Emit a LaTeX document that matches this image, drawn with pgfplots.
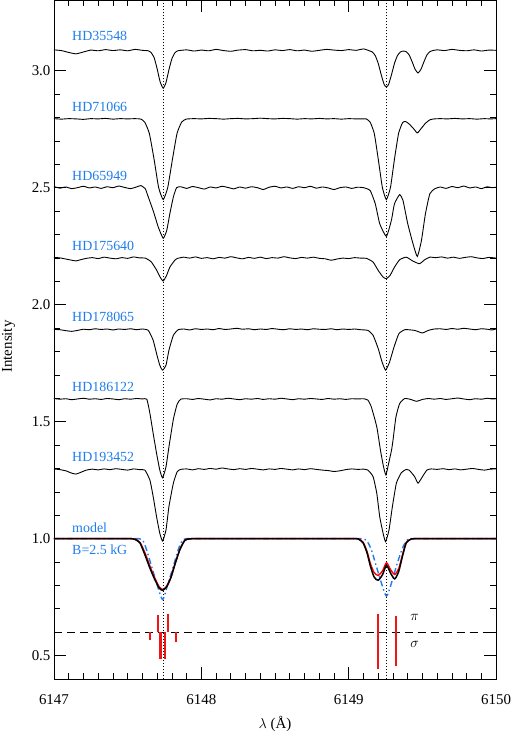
\documentclass[border=0pt]{standalone}
\usepackage{fontspec}
\setmainfont{Liberation Serif}
\usepackage{pgfplots}
\pgfplotsset{compat=1.18}
\definecolor{labblue}{RGB}{30,125,235}
\definecolor{zred}{RGB}{240,20,20}
\tikzset{
  spec/.style={black, line width=0.9bp, smooth, tension=0.3},
  zee/.style={color=zred, solid, line width=2.1bp},
  lab/.style={anchor=west, text=labblue, font=\fontsize{14}{16}\selectfont},
}
\begin{document}
\begin{tikzpicture}
\begin{axis}[
  scale only axis, width=442.5bp, height=679bp,
  xmin=6147, xmax=6150, ymin=0.4, ymax=3.3,
  axis line style={line width=0.8bp},
  tick align=inside, tick pos=both,
  xtick={6147,6148,6149,6150}, minor x tick num=9,
  ytick={0.5,1.0,...,3.0}, minor y tick num=4,
  major tick length=12bp, minor tick length=6bp,
  every tick/.style={black, line width=0.7bp},
  /pgf/number format/assume math mode=true,
  xticklabel style={/pgf/number format/1000 sep={}, yshift=-12bp},
  yticklabel style={/pgf/number format/.cd, fixed, fixed zerofill, precision=1},
  tick label style={font=\fontsize{15}{18}\selectfont},
  xlabel={$\lambda$ (Å)}, ylabel={Intensity},
  label style={font=\fontsize{15}{18}\selectfont},
  xlabel style={at={(axis description cs:0.5,-0.0663)}, anchor=center},
  ylabel style={at={(axis description cs:-0.1025,0.49)}, anchor=center},
]
% Zeeman pattern (drawn first, under the dotted line positions)
\addplot[black, line width=0.8bp, dash pattern=on 8bp off 5bp] coordinates {(6147,0.6) (6150,0.6)};
\addplot[zee] coordinates {(6149.318,0.454) (6149.318,0.670)};
\addplot[zee] coordinates {(6149.199,0.443) (6149.199,0.678)};
\addplot[zee] coordinates {(6147.707,0.6) (6147.707,0.675)};
\addplot[zee] coordinates {(6147.775,0.6) (6147.775,0.680)};
\addplot[zee] coordinates {(6147.651,0.6) (6147.651,0.566)};
\addplot[zee] coordinates {(6147.723,0.6) (6147.723,0.485)};
\addplot[zee] coordinates {(6147.753,0.6) (6147.753,0.485)};
\addplot[zee] coordinates {(6147.825,0.6) (6147.825,0.559)};

% line positions
\addplot[black, line width=1bp, dash pattern=on 1bp off 2bp] coordinates {(6147.741,0.4) (6147.741,3.3)};
\addplot[black, line width=1bp, dash pattern=on 1bp off 2bp] coordinates {(6149.255,0.4) (6149.255,3.3)};

% HD35548
\addplot[spec] coordinates {
(6147.00,3.089) (6147.05,3.086) (6147.10,3.078) (6147.15,3.072) (6147.20,3.080) (6147.25,3.088) (6147.30,3.085) (6147.35,3.090) (6147.40,3.086) (6147.45,3.089) (6147.50,3.085) (6147.55,3.091) (6147.60,3.087)
(6147.64,3.085) (6147.66,3.077) (6147.68,3.055) (6147.70,3.008) (6147.72,2.953) (6147.741,2.925) (6147.76,2.949) (6147.78,3.004) (6147.80,3.051) (6147.82,3.076) (6147.84,3.085)
(6147.90,3.089) (6147.95,3.084) (6148.00,3.088) (6148.05,3.085) (6148.10,3.091) (6148.15,3.086) (6148.20,3.083) (6148.25,3.088) (6148.30,3.090) (6148.35,3.085) (6148.40,3.087) (6148.45,3.084) (6148.50,3.089) (6148.55,3.086) (6148.60,3.090) (6148.65,3.085) (6148.70,3.088) (6148.75,3.083) (6148.80,3.087) (6148.85,3.091) (6148.90,3.088) (6148.95,3.086) (6149.00,3.090) (6149.05,3.087) (6149.10,3.093)
(6149.14,3.085) (6149.16,3.080) (6149.18,3.064) (6149.20,3.031) (6149.22,2.983) (6149.24,2.941) (6149.255,2.930) (6149.27,2.941) (6149.29,2.983) (6149.31,3.031) (6149.33,3.064) (6149.35,3.080) (6149.37,3.084) (6149.39,3.081) (6149.41,3.067) (6149.43,3.038) (6149.45,3.006) (6149.47,2.990) (6149.49,3.006) (6149.51,3.038) (6149.53,3.067) (6149.55,3.081) (6149.57,3.086)
(6149.60,3.089) (6149.65,3.086) (6149.70,3.091) (6149.75,3.087) (6149.80,3.085) (6149.85,3.089) (6149.90,3.084) (6149.95,3.088) (6150.00,3.087)};

% HD71066
\addplot[spec] coordinates {
(6147.00,2.795) (6147.05,2.793) (6147.10,2.795) (6147.15,2.794) (6147.20,2.792) (6147.25,2.795) (6147.30,2.794) (6147.35,2.796) (6147.40,2.793) (6147.45,2.795) (6147.50,2.794) (6147.55,2.795) (6147.59,2.793)
(6147.616,2.780) (6147.647,2.732) (6147.679,2.622) (6147.71,2.501) (6147.741,2.449) (6147.772,2.501) (6147.804,2.622) (6147.835,2.732) (6147.866,2.780) (6147.897,2.793)
(6147.95,2.795) (6148.00,2.794) (6148.05,2.796) (6148.10,2.795) (6148.15,2.793) (6148.20,2.795) (6148.25,2.796) (6148.30,2.794) (6148.35,2.795) (6148.40,2.797) (6148.45,2.795) (6148.50,2.794) (6148.55,2.796) (6148.60,2.795) (6148.65,2.793) (6148.70,2.795) (6148.75,2.794) (6148.80,2.796) (6148.85,2.794) (6148.90,2.795) (6148.95,2.793) (6149.00,2.795) (6149.05,2.794) (6149.09,2.794)
(6149.118,2.794) (6149.145,2.780) (6149.173,2.732) (6149.20,2.622) (6149.228,2.501) (6149.255,2.449) (6149.283,2.501) (6149.31,2.622) (6149.338,2.732) (6149.365,2.778) (6149.385,2.783) (6149.41,2.772) (6149.44,2.752) (6149.465,2.734) (6149.49,2.752) (6149.52,2.775) (6149.55,2.790) (6149.58,2.794)
(6149.62,2.795) (6149.67,2.794) (6149.72,2.796) (6149.77,2.794) (6149.82,2.795) (6149.87,2.793) (6149.92,2.795) (6149.96,2.794) (6150.00,2.795)};

% HD65949
\addplot[spec] coordinates {
(6147.00,2.505) (6147.04,2.498) (6147.08,2.503) (6147.12,2.496) (6147.16,2.500) (6147.20,2.506) (6147.24,2.499) (6147.28,2.503) (6147.32,2.497) (6147.36,2.504) (6147.40,2.500) (6147.44,2.507) (6147.48,2.501) (6147.52,2.496) (6147.56,2.503) (6147.59,2.509)
(6147.62,2.495) (6147.64,2.460) (6147.674,2.400) (6147.708,2.331) (6147.741,2.284) (6147.765,2.317) (6147.786,2.388) (6147.81,2.460) (6147.832,2.500)
(6147.86,2.504) (6147.90,2.497) (6147.94,2.505) (6147.98,2.500) (6148.02,2.494) (6148.06,2.503) (6148.10,2.499) (6148.14,2.506) (6148.18,2.501) (6148.22,2.495) (6148.26,2.503) (6148.30,2.498) (6148.34,2.504) (6148.38,2.500) (6148.42,2.492) (6148.46,2.502) (6148.50,2.506) (6148.54,2.499) (6148.58,2.503) (6148.62,2.497) (6148.66,2.504) (6148.70,2.500) (6148.74,2.506) (6148.78,2.498) (6148.82,2.503) (6148.86,2.499) (6148.90,2.492) (6148.94,2.500) (6148.98,2.503) (6149.02,2.497) (6149.06,2.502) (6149.10,2.500)
(6149.145,2.488) (6149.18,2.431) (6149.21,2.346) (6149.255,2.292) (6149.289,2.360) (6149.31,2.431) (6149.345,2.470) (6149.368,2.445) (6149.40,2.346) (6149.436,2.260) (6149.465,2.206) (6149.493,2.274) (6149.52,2.388) (6149.55,2.474) (6149.583,2.495)
(6149.62,2.503) (6149.66,2.497) (6149.70,2.505) (6149.74,2.500) (6149.78,2.507) (6149.82,2.499) (6149.86,2.503) (6149.90,2.496) (6149.94,2.504) (6149.97,2.500) (6150.00,2.502)};

% HD175640
\addplot[spec] coordinates {
(6147.00,2.202) (6147.04,2.200) (6147.08,2.195) (6147.12,2.190) (6147.15,2.187) (6147.18,2.192) (6147.22,2.198) (6147.26,2.201) (6147.30,2.197) (6147.34,2.203) (6147.38,2.199) (6147.42,2.196) (6147.46,2.201) (6147.50,2.198) (6147.54,2.204) (6147.58,2.200) (6147.62,2.199)
(6147.66,2.183) (6147.696,2.148) (6147.72,2.118) (6147.741,2.101) (6147.764,2.125) (6147.786,2.160) (6147.82,2.190) (6147.84,2.198)
(6147.88,2.203) (6147.92,2.199) (6147.96,2.204) (6148.00,2.198) (6148.04,2.201) (6148.08,2.196) (6148.12,2.202) (6148.16,2.199) (6148.20,2.205) (6148.24,2.200) (6148.28,2.196) (6148.32,2.202) (6148.36,2.198) (6148.40,2.203) (6148.44,2.197) (6148.48,2.201) (6148.52,2.199) (6148.56,2.205) (6148.60,2.200) (6148.64,2.197) (6148.68,2.202) (6148.72,2.199) (6148.76,2.203) (6148.80,2.198) (6148.84,2.196) (6148.88,2.190) (6148.92,2.195) (6148.96,2.199) (6149.00,2.197) (6149.04,2.201) (6149.08,2.199) (6149.12,2.198)
(6149.165,2.182) (6149.20,2.146) (6149.233,2.118) (6149.255,2.111) (6149.28,2.125) (6149.31,2.160) (6149.345,2.192) (6149.39,2.203) (6149.436,2.186) (6149.48,2.175) (6149.515,2.192) (6149.55,2.203)
(6149.59,2.201) (6149.63,2.204) (6149.67,2.199) (6149.71,2.203) (6149.75,2.198) (6149.79,2.202) (6149.83,2.205) (6149.87,2.200) (6149.91,2.197) (6149.95,2.202) (6150.00,2.199)};

% HD178065
\addplot[spec] coordinates {
(6147.00,1.894) (6147.04,1.893) (6147.08,1.889) (6147.12,1.886) (6147.16,1.890) (6147.20,1.895) (6147.24,1.893) (6147.28,1.897) (6147.32,1.894) (6147.36,1.896) (6147.40,1.892) (6147.44,1.896) (6147.48,1.894) (6147.52,1.897) (6147.56,1.893) (6147.60,1.896)
(6147.64,1.890) (6147.673,1.848) (6147.696,1.791) (6147.718,1.741) (6147.737,1.720) (6147.76,1.741) (6147.78,1.805) (6147.81,1.869) (6147.843,1.893)
(6147.88,1.896) (6147.92,1.892) (6147.96,1.897) (6148.00,1.894) (6148.04,1.896) (6148.08,1.893) (6148.12,1.898) (6148.16,1.894) (6148.20,1.896) (6148.24,1.899) (6148.28,1.895) (6148.32,1.897) (6148.36,1.893) (6148.40,1.896) (6148.44,1.894) (6148.48,1.898) (6148.52,1.895) (6148.56,1.893) (6148.60,1.897) (6148.64,1.894) (6148.68,1.896) (6148.72,1.893) (6148.76,1.897) (6148.80,1.895) (6148.84,1.894) (6148.88,1.897) (6148.92,1.893) (6148.96,1.896) (6149.00,1.894) (6149.04,1.896) (6149.08,1.893)
(6149.13,1.890) (6149.165,1.869) (6149.20,1.812) (6149.226,1.755) (6149.25,1.720) (6149.277,1.755) (6149.307,1.819) (6149.34,1.876) (6149.38,1.893) (6149.42,1.892) (6149.447,1.890) (6149.475,1.884) (6149.50,1.879) (6149.54,1.890) (6149.58,1.896)
(6149.62,1.897) (6149.66,1.894) (6149.70,1.898) (6149.74,1.895) (6149.78,1.899) (6149.82,1.896) (6149.86,1.893) (6149.90,1.897) (6149.94,1.895) (6149.97,1.892) (6150.00,1.896)};

% HD186122
\addplot[spec] coordinates {
(6147.00,1.599) (6147.04,1.596) (6147.08,1.598) (6147.12,1.594) (6147.16,1.597) (6147.20,1.600) (6147.24,1.596) (6147.28,1.598) (6147.32,1.595) (6147.36,1.599) (6147.40,1.597) (6147.44,1.594) (6147.48,1.598) (6147.52,1.596) (6147.56,1.599) (6147.60,1.597) (6147.63,1.596)
(6147.651,1.535) (6147.673,1.450) (6147.696,1.365) (6147.718,1.293) (6147.737,1.260) (6147.76,1.307) (6147.78,1.392) (6147.81,1.510) (6147.836,1.575) (6147.86,1.596)
(6147.90,1.598) (6147.94,1.595) (6147.98,1.599) (6148.02,1.596) (6148.06,1.593) (6148.10,1.598) (6148.14,1.596) (6148.18,1.600) (6148.22,1.597) (6148.26,1.594) (6148.30,1.598) (6148.34,1.596) (6148.38,1.599) (6148.42,1.595) (6148.46,1.598) (6148.50,1.596) (6148.54,1.600) (6148.58,1.597) (6148.62,1.594) (6148.66,1.598) (6148.70,1.596) (6148.74,1.599) (6148.78,1.597) (6148.82,1.595) (6148.86,1.599) (6148.90,1.596) (6148.94,1.598) (6148.98,1.595) (6149.02,1.598) (6149.06,1.597) (6149.10,1.598)
(6149.13,1.592) (6149.153,1.563) (6149.19,1.478) (6149.215,1.378) (6149.235,1.310) (6149.252,1.272) (6149.27,1.320) (6149.29,1.378) (6149.30,1.420) (6149.32,1.520) (6149.345,1.577) (6149.38,1.599) (6149.42,1.595) (6149.46,1.587) (6149.50,1.595) (6149.54,1.599)
(6149.58,1.596) (6149.62,1.599) (6149.66,1.595) (6149.70,1.598) (6149.74,1.601) (6149.78,1.597) (6149.82,1.594) (6149.86,1.598) (6149.90,1.596) (6149.94,1.600) (6149.97,1.597) (6150.00,1.598)};

% HD193452
\addplot[spec] coordinates {
(6147.00,1.298) (6147.04,1.295) (6147.08,1.290) (6147.12,1.280) (6147.15,1.276) (6147.18,1.283) (6147.22,1.293) (6147.26,1.297) (6147.30,1.294) (6147.34,1.298) (6147.38,1.295) (6147.42,1.299) (6147.46,1.296) (6147.50,1.293) (6147.54,1.298) (6147.58,1.295)
(6147.617,1.293) (6147.651,1.250) (6147.673,1.180) (6147.696,1.094) (6147.718,1.023) (6147.737,0.990) (6147.76,1.037) (6147.78,1.137) (6147.81,1.237) (6147.836,1.286) (6147.86,1.296)
(6147.90,1.298) (6147.94,1.294) (6147.98,1.299) (6148.02,1.296) (6148.06,1.300) (6148.10,1.297) (6148.14,1.302) (6148.18,1.298) (6148.22,1.295) (6148.26,1.299) (6148.30,1.296) (6148.34,1.300) (6148.38,1.297) (6148.42,1.294) (6148.46,1.298) (6148.50,1.296) (6148.54,1.300) (6148.58,1.297) (6148.62,1.294) (6148.66,1.298) (6148.70,1.295) (6148.74,1.299) (6148.78,1.296) (6148.82,1.293) (6148.86,1.291) (6148.90,1.287) (6148.94,1.290) (6148.98,1.295) (6149.02,1.298) (6149.06,1.296) (6149.10,1.297)
(6149.13,1.293) (6149.165,1.265) (6149.19,1.194) (6149.21,1.094) (6149.233,1.023) (6149.25,0.987) (6149.273,1.037) (6149.296,1.137) (6149.323,1.237) (6149.357,1.282) (6149.39,1.296) (6149.41,1.293) (6149.447,1.265) (6149.47,1.237) (6149.50,1.265) (6149.53,1.293) (6149.56,1.298)
(6149.60,1.296) (6149.64,1.299) (6149.68,1.295) (6149.72,1.298) (6149.76,1.294) (6149.80,1.297) (6149.84,1.300) (6149.88,1.296) (6149.92,1.293) (6149.96,1.297) (6150.00,1.298)};

% model, B = 2.5 kG
\addplot[labblue, line width=1.4bp, dash pattern=on 6bp off 3bp on 1.5bp off 3bp, smooth, tension=0.4] coordinates {
(6147.00,1.0) (6147.50,1.0) (6147.54,1.0) (6147.565,1.0) (6147.583,0.999) (6147.606,0.989) (6147.628,0.953) (6147.662,0.882) (6147.696,0.811) (6147.737,0.740) (6147.775,0.811) (6147.81,0.882) (6147.843,0.953) (6147.872,0.993) (6147.90,1.0) (6147.93,1.0) (6147.96,1.0) (6148.50,1.0)
(6149.02,1.0) (6149.05,1.0) (6149.08,1.0) (6149.10,0.999) (6149.124,0.990) (6149.153,0.953) (6149.187,0.882) (6149.221,0.811) (6149.256,0.754) (6149.29,0.811) (6149.323,0.882) (6149.36,0.953) (6149.39,0.990) (6149.41,0.999) (6149.43,1.0) (6149.46,1.0) (6149.49,1.0) (6150.00,1.0)};
\addplot[red, line width=1.4bp, smooth, tension=0.4] coordinates {
(6147.00,1.0) (6147.46,1.0) (6147.49,1.0) (6147.52,1.0) (6147.55,0.998) (6147.585,0.983) (6147.62,0.935) (6147.655,0.876) (6147.688,0.826) (6147.716,0.792) (6147.74,0.783) (6147.764,0.796) (6147.793,0.834) (6147.82,0.889) (6147.854,0.953) (6147.888,0.993) (6147.92,0.999) (6147.95,1.0) (6147.98,1.0) (6148.50,1.0)
(6149.00,1.0) (6149.03,1.0) (6149.065,0.999) (6149.097,0.985) (6149.124,0.945) (6149.147,0.893) (6149.172,0.855) (6149.199,0.843) (6149.229,0.862) (6149.256,0.897) (6149.285,0.866) (6149.312,0.847) (6149.339,0.872) (6149.364,0.930) (6149.39,0.984) (6149.425,0.999) (6149.45,1.0) (6149.48,1.0) (6149.51,1.0) (6150.00,1.0)};
\addplot[black, line width=1.5bp, smooth, tension=0.4] coordinates {
(6147.00,1.0) (6147.46,1.0) (6147.49,1.0) (6147.52,1.0) (6147.549,0.997) (6147.583,0.982) (6147.617,0.931) (6147.651,0.874) (6147.685,0.824) (6147.714,0.789) (6147.737,0.779) (6147.764,0.794) (6147.793,0.833) (6147.82,0.889) (6147.854,0.953) (6147.888,0.993) (6147.92,0.999) (6147.95,1.0) (6147.98,1.0) (6148.50,1.0)
(6149.00,1.0) (6149.03,1.0) (6149.063,0.999) (6149.097,0.982) (6149.124,0.939) (6149.147,0.882) (6149.172,0.836) (6149.199,0.822) (6149.229,0.846) (6149.256,0.886) (6149.285,0.851) (6149.312,0.828) (6149.339,0.860) (6149.364,0.924) (6149.39,0.982) (6149.425,0.999) (6149.45,1.0) (6149.48,1.0) (6149.51,1.0) (6150.00,1.0)};

\node[lab] at (axis cs:6147.10,3.149) {HD35548};
\node[lab] at (axis cs:6147.10,2.846) {HD71066};
\node[lab] at (axis cs:6147.10,2.549) {HD65949};
\node[lab] at (axis cs:6147.10,2.250) {HD175640};
\node[lab] at (axis cs:6147.10,1.947) {HD178065};
\node[lab] at (axis cs:6147.10,1.648) {HD186122};
\node[lab] at (axis cs:6147.10,1.350) {HD193452};
\node[lab] at (axis cs:6147.10,1.048) {model};
\node[lab] at (axis cs:6147.10,0.954) {B=2.5 kG};
\node[font=\fontsize{15}{18}\selectfont] at (axis cs:6149.447,0.665) {$\pi$};
\node[font=\fontsize{15}{18}\selectfont] at (axis cs:6149.447,0.546) {$\sigma$};
\end{axis}
\pgfresetboundingbox
\path[use as bounding box] (-54bp,-55bp) rectangle (458bp,679.5bp);
\end{tikzpicture}
\end{document}
